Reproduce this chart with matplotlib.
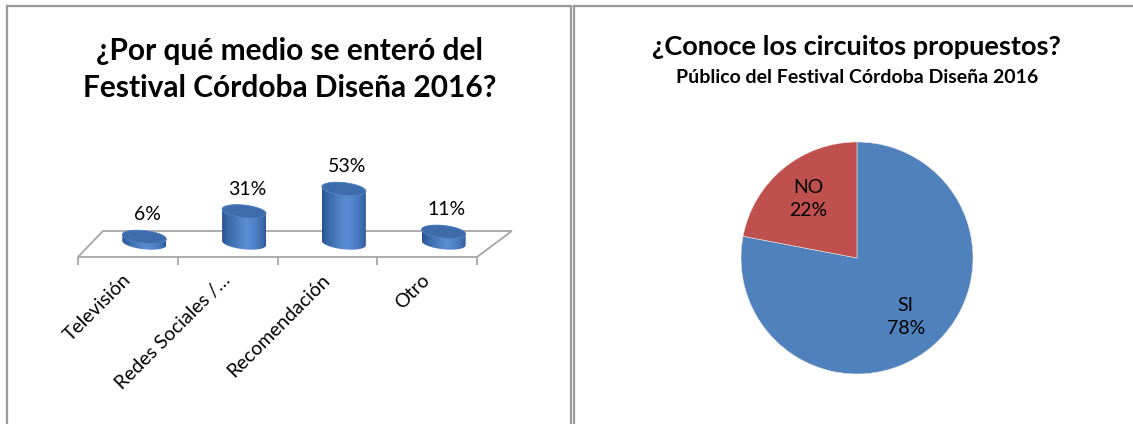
import numpy as np
import matplotlib
matplotlib.use("Agg")
import matplotlib.pyplot as plt
from matplotlib.patches import Polygon
from matplotlib.lines import Line2D
from matplotlib.colors import LinearSegmentedColormap

# ---------------- data ----------------
bar_title = "¿Por qué medio se enteró del\nFestival Córdoba Diseña 2016?"
bar_categories = ["Televisión", "Redes Sociales /…", "Recomendación", "Otro"]
bar_values = [6, 31, 53, 11]

pie_title = "¿Conoce los circuitos propuestos?"
pie_subtitle = "Público del Festival Córdoba Diseña 2016"
pie_labels = ["SI", "NO"]
pie_values = [78, 22]
pie_colors = ["#4F81BD", "#C0504D"]

plt.rcParams['font.family'] = ['Lato', 'DejaVu Sans']

W, H = 1133, 424
fig = plt.figure(figsize=(W / 100, H / 100), dpi=100)


def fx(px):
    return px / W


def fy(py):
    return 1 - py / H


# ---------------- panel borders ----------------
border_col = "#9a9a9a"
for xs, ys in [([7, 7], [H + 5, 6]), ([7, 571], [6, 6]), ([571, 571], [6, H + 5]),
               ([574, 574], [H + 5, 6]), ([574, W + 5], [6, 6])]:
    fig.add_artist(Line2D([fx(x) for x in xs], [fy(y) for y in ys],
                          color=border_col, lw=1.6, transform=fig.transFigure))

# ---------------- left chart: 3D cylinders ----------------
sx = 99.75   # px per category unit
sy = 1.02    # px per percent
xlim = (-1.0, 4.0)
ylim = (-25.0, 100.0)
base_px = 243                  # pixel row of value 0
ax = fig.add_axes([fx(78 - 0.5 * sx), fy(base_px - ylim[0] * sy),
                   (xlim[1] - xlim[0]) * sx / W, (ylim[1] - ylim[0]) * sy / H])
ax.set_xlim(*xlim)
ax.set_ylim(*ylim)
ax.axis("off")

# floor (perspective parallelogram)
front_y = -14 / sy
back_y = 12 / sy
floor = Polygon([(-0.5, front_y), (3.5, front_y), (3.5 + 0.35, back_y), (-0.5 + 0.25, back_y)],
                closed=True, facecolor="white", edgecolor="#a6a6a6", lw=1.3, zorder=1)
ax.add_patch(floor)
for bnd in np.arange(-0.5, len(bar_categories), 1.0):
    ax.plot([bnd, bnd], [front_y, front_y - 8 / sy], color="#a6a6a6", lw=1.3, zorder=1,
            solid_capstyle="butt")

cmap = LinearSegmentedColormap.from_list(
    "cyl", [(0, "#2a5190"), (0.12, "#3767a8"), (0.55, "#5a8ed4"),
            (0.8, "#4b7dc3"), (0.93, "#3b6aad"), (1, "#2c5693")])
grad = np.linspace(0, 1, 200).reshape(1, -1)

a = 22 / sx
b = 6.3 / sy
k = 2.2 / sy
t = np.linspace(0, 2 * np.pi, 200)
for i, v in enumerate(bar_values):
    xc = i + 0.165
    tb = np.linspace(np.pi, 2 * np.pi, 100)
    tt = np.linspace(0, np.pi, 100)
    bx = xc + a * np.cos(tb)
    by = 0 + b * np.sin(tb) - k * np.cos(tb)
    txx = xc + a * np.cos(tt)
    tyy = v + b * np.sin(tt) - k * np.cos(tt)
    body = Polygon(np.column_stack([np.r_[bx, txx], np.r_[by, tyy]]), closed=True,
                   facecolor="none", edgecolor="none", zorder=3)
    ax.add_patch(body)
    im = ax.imshow(grad, cmap=cmap, aspect="auto", zorder=3,
                   extent=[xc - a, xc + a, -b - k, v + b + k], interpolation="bilinear")
    im.set_clip_path(body)
    top = Polygon(np.column_stack([xc + a * np.cos(t), v + b * np.sin(t) - k * np.cos(t)]),
                  closed=True, facecolor="#3d6bab", edgecolor="#5584c4", lw=0.6, zorder=4)
    ax.add_patch(top)
    ax.annotate(f"{v}%", (xc, v), xytext=(3, 22), textcoords="offset pixels",
                ha="center", va="center", fontsize=14, color="black", zorder=5)

for i, c in enumerate(bar_categories):
    ax.annotate(c, (i, front_y), xytext=(6, -14), textcoords="offset pixels",
                ha="right", va="top", rotation=45, fontsize=14, color="black",
                annotation_clip=False)

fig.text(fx(290), fy(60), bar_title.split("\n")[0], ha="center", va="baseline",
         fontsize=21.5, fontweight="bold")
fig.text(fx(290), fy(97), bar_title.split("\n")[1], ha="center", va="baseline",
         fontsize=21.5, fontweight="bold")

# ---------------- right chart: pie ----------------
r_px = 116
cx_px, cy_px = 857, 258
ax2 = fig.add_axes([fx(cx_px - r_px), fy(cy_px + r_px), 2 * r_px / W, 2 * r_px / H])
wedges, texts = ax2.pie(pie_values, colors=pie_colors, startangle=90, counterclock=False,
                        labels=[f"{l}\n{v}%" for l, v in zip(pie_labels, pie_values)],
                        labeldistance=0.66, radius=1.0,
                        wedgeprops=dict(edgecolor="#e8e8e8", linewidth=0.4),
                        textprops=dict(fontsize=14, color="black", linespacing=1.45))
ax2.set_xlim(-1, 1)
ax2.set_ylim(-1, 1)
ax2.axis("off")
for tx in texts:
    tx.set_ha("center")
    tx.set_va("center")

fig.text(fx(856), fy(55), pie_title, ha="center", va="baseline", fontsize=19.5,
         fontweight="bold")
fig.text(fx(857), fy(83), pie_subtitle, ha="center", va="baseline", fontsize=14,
         fontweight="bold")

fig.savefig("out.png", dpi=100, facecolor="white")
